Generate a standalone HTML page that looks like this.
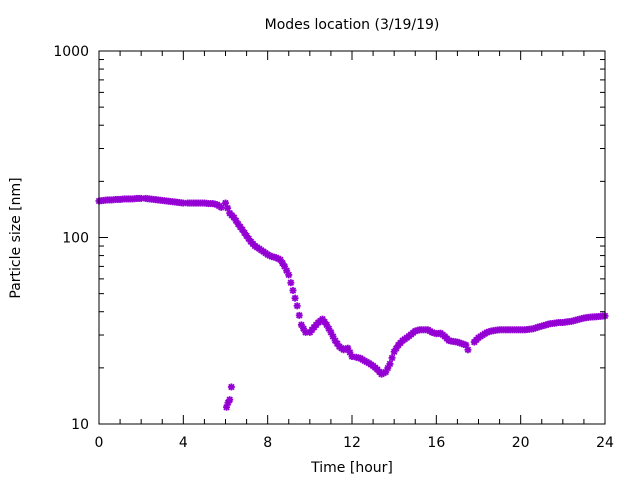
<!DOCTYPE html>
<html><head><meta charset="utf-8"><style>
html,body{margin:0;padding:0;background:#fff;}
svg{display:block;font-family:"DejaVu Sans","Liberation Sans",sans-serif;}
</style></head><body>
<svg id="chart" width="640" height="480">
<text x="352" y="29" text-anchor="middle" font-size="14">Modes location (3/19/19)</text>
<text x="352" y="472" text-anchor="middle" font-size="14">Time [hour]</text>
<text transform="translate(20,238) rotate(-90)" text-anchor="middle" font-size="14">Particle size [nm]</text>
<g id="axes"></g>
<g id="marks"></g>
<rect x="99" y="51" width="506" height="373" fill="none" stroke="#000" stroke-width="1"/>
</svg>
<script>
const segStarts=[0,2.2,4.2,6.0,10.0,12.2,17.5,17.8];
const segValues=[
[157,158,159,159,160,160,161,161,161,162,162],
[162,161,160,159,158,157,156,155,154,153],
[153,153,153,153,153,152,152,150,145],
[153,135,128,118,110,102,95,90,87,84,81,79,78,76,70,63,52,43,34,31],
[31,33,35,36.5,34,31,28,26,25,25.5,23],
[22.8,22.5,21.8,21.2,20.5,19.6,18.5,19,21,24.4,26.5,28,29,30.2,31.5,32,32,32,31,30.5,30.7,29.5,28,27.7,27.5,27,26.5],
[25],
[27.5,29,30,31,31.5,31.8,32,32,32,32,32,32,32,32.2,32.4,33,33.5,34,34.5,34.7,35,35,35.3,35.5,36,36.5,37,37.3,37.5,37.6,37.8,38]
];
const outlierHours=[6.05,6.12,6.2,6.28];
const outlierValues=[12.3,13,13.5,15.8];
const xTicks=[0,4,8,12,16,20,24];
const yTicks=[10,100,1000];

const X0=99,X1=605,Y0=424,Y1=51;
const xs=h=>X0+(h/24)*(X1-X0);
const ys=v=>Y0-(Math.log10(v)-1)/2*(Y0-Y1);
const NS="http://www.w3.org/2000/svg";
const axes=document.getElementById('axes'),marks=document.getElementById('marks');
function line(p,x1,y1,x2,y2,c,w){const l=document.createElementNS(NS,'line');l.setAttribute('x1',x1);l.setAttribute('y1',y1);l.setAttribute('x2',x2);l.setAttribute('y2',y2);l.setAttribute('stroke',c);l.setAttribute('stroke-width',w);p.appendChild(l);return l;}
for(let h=0;h<=24;h++){
  const x=xs(h),len=(h%4===0)?9:5;
  const t1=line(axes,x,Y0,x,Y0-len,'#000',1);
  
  
  const t2=line(axes,x,Y1,x,Y1+len,'#000',1);
  
  
}
xTicks.forEach(h=>{
  const t=document.createElementNS(NS,'text');
  t.setAttribute('x',xs(h));t.setAttribute('y',447);t.setAttribute('text-anchor','middle');t.setAttribute('font-size','14');
  t.textContent=h;
  
  
  axes.appendChild(t);
});
for(let d=10;d<=1000;d*=10){
  for(let m=1;m<10;m++){
    const v=d*m;if(v>1000)break;
    const y=ys(v),len=(m===1)?9:5;
    const t1=line(axes,X0,y,X0+len,y,'#000',1);
    
    
    const t2=line(axes,X1,y,X1-len,y,'#000',1);
    
    
  }
}
yTicks.forEach(v=>{
  const t=document.createElementNS(NS,'text');
  t.setAttribute('x',89);t.setAttribute('y',ys(v)+5);t.setAttribute('text-anchor','end');t.setAttribute('font-size','14');
  t.textContent=v;
  
  
  axes.appendChild(t);
});
function star(h,v){
  const g=document.createElementNS(NS,'g');
  
  
  const x=xs(h),y=ys(v),r=3.5,c='#9400d3';
  line(g,x-r,y,x+r,y,c,1.8);line(g,x,y-r,x,y+r,c,1.8);
  line(g,x-r*0.75,y-r*0.75,x+r*0.75,y+r*0.75,c,1.8);line(g,x-r*0.75,y+r*0.75,x+r*0.75,y-r*0.75,c,1.8);
  marks.appendChild(g);
}
segValues.forEach((vals,s)=>{
  for(let i=0;i<vals.length;i++){
    star(segStarts[s]+i*0.2,vals[i]);
    if(i<vals.length-1) star(segStarts[s]+i*0.2+0.1,Math.sqrt(vals[i]*vals[i+1]));
  }
});
outlierHours.forEach((h,i)=>star(h,outlierValues[i]));
</script>
</body></html>
